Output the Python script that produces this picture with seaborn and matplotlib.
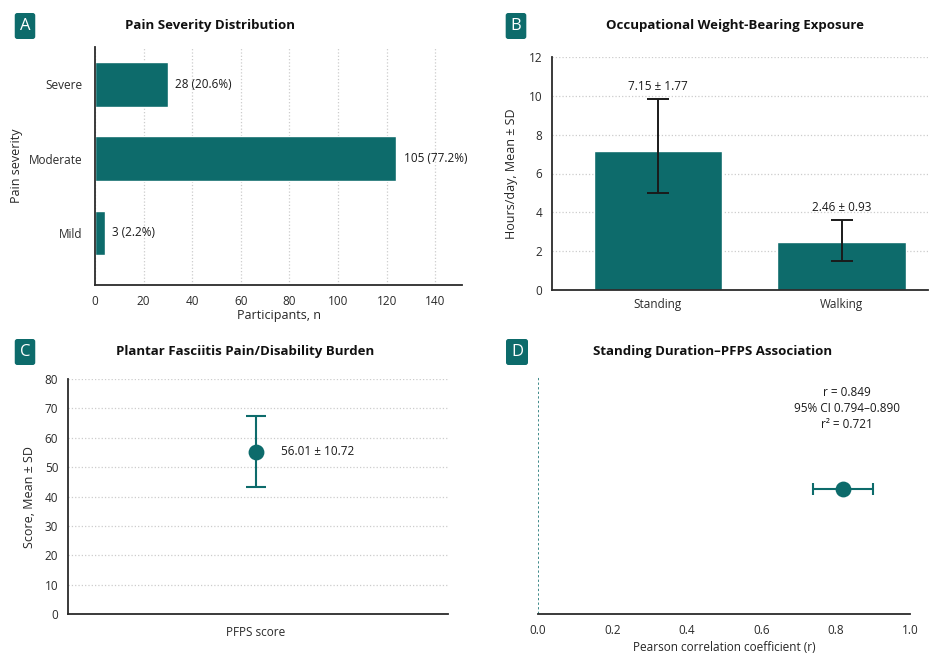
import numpy as np
import pandas as pd
import matplotlib
matplotlib.use("Agg")
import matplotlib.pyplot as plt
import seaborn as sns

# ---- data ----
severity = ["Severe", "Moderate", "Mild"]
severity_bar = [30, 124, 4]                      # drawn bar lengths
severity_text = ["28 (20.6%)", "105 (77.2%)", "3 (2.2%)"]

activity = ["Standing", "Walking"]
activity_mean = [7.18, 2.45]
activity_err_lo = [2.21, 0.96]
activity_err_hi = [2.67, 1.15]
activity_text = ["7.15 ± 1.77", "2.46 ± 0.93"]

pfps_label = ["PFPS score"]
pfps_mean = [55.3]
pfps_sd = [12.0]
pfps_text = "56.01 ± 10.72"

corr_r = [0.82]
corr_lo = [0.74]
corr_hi = [0.90]
corr_text = "r = 0.849\n95% CI 0.794–0.890\nr² = 0.721"

teal = "#0d6b6b"
dark = "#2b2b2b"

sns.set_theme(style="white")
plt.rcParams['font.family'] = ['Open Sans', 'DejaVu Sans']
plt.rcParams['axes.edgecolor'] = dark
plt.rcParams['xtick.color'] = dark
plt.rcParams['ytick.color'] = dark

W, H = 930, 656
fig = plt.figure(figsize=(W / 100, H / 100), dpi=100)
fig.patch.set_facecolor("white")


def px_axes(l, t, r, b):
    return fig.add_axes([l / W, 1 - b / H, (r - l) / W, (b - t) / H])


def style_axes(ax, left=True):
    sns.despine(ax=ax, left=not left)
    for s in ["left", "bottom"]:
        ax.spines[s].set_linewidth(1.3)
        ax.spines[s].set_color(dark)
    ax.tick_params(axis="both", labelsize=8.5, length=4, width=1, direction="out",
                   colors=dark, pad=3)


def panel(letter, x, y, title, tx):
    fig.text(x / W, 1 - y / H, letter, color="white", fontsize=12, ha="center",
             va="center", bbox=dict(boxstyle="round,pad=0.3,rounding_size=0.15",
                                    fc=teal, ec="none"))
    fig.text(tx / W, 1 - y / H, title, fontsize=9.5, fontweight="bold",
             ha="center", va="center", color="#111111")


# ---- A: pain severity ----
axA = px_axes(95, 47, 462, 285)
dfA = pd.DataFrame({"severity": severity, "n": severity_bar})
sns.barplot(data=dfA, x="n", y="severity", color=teal, width=0.6,
            saturation=1, ax=axA)
axA.set_xlim(0, 151)
axA.set_xticks(np.arange(0, 141, 20))
axA.set_ylim(2.7, -0.5)
axA.xaxis.grid(True, linestyle=":", color="#cccccc", linewidth=0.9)
axA.set_axisbelow(True)
style_axes(axA)
axA.tick_params(axis="y", length=0, pad=9)
axA.set_xlabel("Participants, n", fontsize=9, labelpad=1)
axA.set_ylabel("Pain severity", fontsize=9, labelpad=4)
for i, (v, t) in enumerate(zip(severity_bar, severity_text)):
    axA.text(v + 3, i, t, va="center", ha="left", fontsize=8.5, color="#1a1a1a")
panel("A", 25, 26, "Pain Severity Distribution", 210)

# ---- B: weight-bearing exposure ----
axB = px_axes(552, 57, 928, 290)
dfB = pd.DataFrame({"activity": activity, "hours": activity_mean})
sns.barplot(data=dfB, x="activity", y="hours", color=teal, width=0.7,
            saturation=1, errorbar=None, ax=axB)
axB.errorbar(range(len(activity)), activity_mean,
             yerr=[activity_err_lo, activity_err_hi], fmt="none",
             ecolor="#1a1a1a", elinewidth=1.4, capsize=8, capthick=1.4)
axB.set_ylim(0, 12)
axB.set_yticks(np.arange(0, 13, 2))
axB.set_xlim(-0.576, 1.47)
axB.yaxis.grid(True, linestyle=":", color="#cccccc", linewidth=0.9)
axB.set_axisbelow(True)
style_axes(axB)
axB.tick_params(axis="x", length=0, pad=6)
axB.set_xlabel("")
axB.set_ylabel("Hours/day, Mean ± SD", fontsize=9, labelpad=8)
for i, (m, e, t) in enumerate(zip(activity_mean, activity_err_hi, activity_text)):
    axB.text(i, m + e + 0.3, t, ha="center", va="bottom", fontsize=8.5,
             color="#1a1a1a")
panel("B", 516, 26, "Occupational Weight-Bearing Exposure", 735)

# ---- C: PFPS score ----
axC = px_axes(68, 379, 448, 614)
dfC = pd.DataFrame({"measure": pfps_label, "score": pfps_mean})
axC.errorbar([0], pfps_mean, yerr=pfps_sd, fmt="none", ecolor=teal,
             elinewidth=1.5, capsize=7, capthick=1.5, zorder=2)
sns.scatterplot(data=dfC, x=[0], y="score", color=teal, s=130,
                edgecolor=teal, linewidth=0, ax=axC, zorder=3)
axC.set_xlim(-1, 1.02)
axC.set_xticks([0])
axC.set_xticklabels(pfps_label)
axC.set_ylim(0, 80)
axC.set_yticks(np.arange(0, 81, 10))
axC.yaxis.grid(True, linestyle=":", color="#cccccc", linewidth=0.9)
axC.set_axisbelow(True)
style_axes(axC)
axC.tick_params(axis="x", length=0, pad=9)
axC.set_xlabel("")
axC.set_ylabel("Score, Mean ± SD", fontsize=9, labelpad=6)
axC.text(0.13, pfps_mean[0], pfps_text, ha="left", va="center", fontsize=8.5,
         color="#1a1a1a")
panel("C", 25, 352, "Plantar Fasciitis Pain/Disability Burden", 245)

# ---- D: correlation ----
axD = px_axes(538, 376, 910, 614)
dfD = pd.DataFrame({"r": corr_r, "row": [0]})
axD.axvline(0, color=teal, linestyle=(0, (1.5, 1.5)), linewidth=1.1)
axD.errorbar(corr_r, [0],
             xerr=[[corr_r[0] - corr_lo[0]], [corr_hi[0] - corr_r[0]]],
             fmt="none", ecolor=teal, elinewidth=1.5, capsize=4.5, capthick=1.5,
             zorder=2)
sns.scatterplot(data=dfD, x="r", y="row", color=teal, s=130, linewidth=0,
                ax=axD, zorder=3)
axD.set_xlim(0, 1.0)
axD.set_xticks(np.arange(0, 1.01, 0.2))
axD.set_xticklabels([f"{v:.1f}" for v in np.arange(0, 1.01, 0.2)])
axD.set_ylim(-1.05, 0.95)
axD.set_yticks([])
style_axes(axD, left=False)
axD.set_xlabel("Pearson correlation coefficient (r)", fontsize=8.5, labelpad=3)
axD.set_ylabel("")
axD.text(corr_r[0] + 0.01, 0.87, corr_text, ha="center", va="top",
         fontsize=8.5, color="#1a1a1a", linespacing=1.3)
panel("D", 517, 352, "Standing Duration–PFPS Association", 713)

fig.savefig("out.png", dpi=100, facecolor="white")
